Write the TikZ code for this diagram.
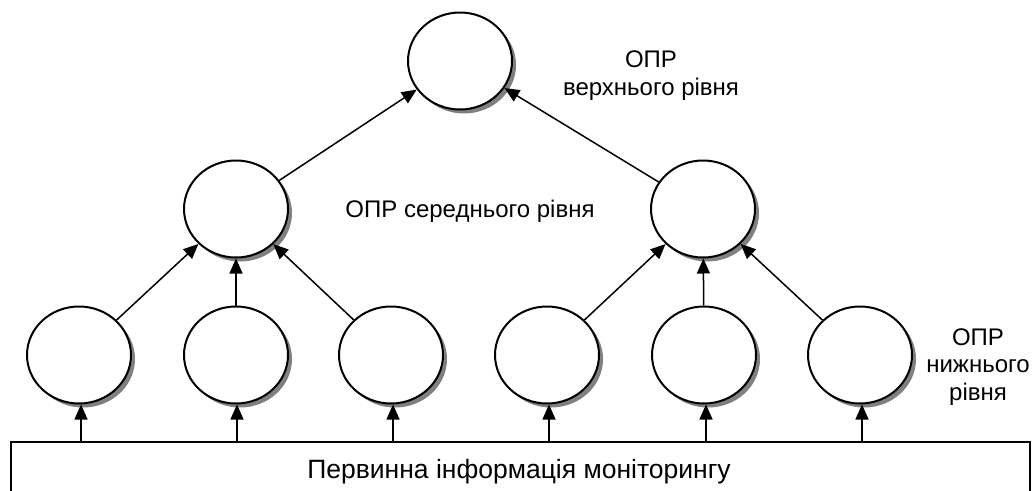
\documentclass[tikz,border=0pt]{standalone}
\usepackage{fontspec}
\setmainfont{Liberation Sans}
\usetikzlibrary{shapes.geometric,arrows.meta,shadows}
\begin{document}
\begin{tikzpicture}[x=1pt,y=-1pt,
  dm/.style={ellipse,draw,line width=2pt,fill=white,minimum width=104pt,minimum height=97pt,inner sep=0pt,
    drop shadow={shadow xshift=4pt,shadow yshift=-4pt,fill=black!50,opacity=1}},
  conn/.style={line width=1.5pt,-{Triangle[length=15pt,width=13pt]}},
  lbl/.style={font=\fontsize{24}{27.5}\selectfont,align=center,inner sep=0pt,anchor=base}]
\useasboundingbox (0,0) rectangle (1032,490);
% info box
\draw[line width=2pt] (11,442) -- (1030,442) -- (1030,495) -- (11,495) -- cycle;
\node[lbl,font=\fontsize{26.5}{30}\selectfont] (info) at (519,478) {Первинна інформація моніторингу};
\coordinate (b1) at (81,442);
\coordinate (b2) at (237,442);
\coordinate (b3) at (393,442);
\coordinate (b4) at (549,442);
\coordinate (b5) at (706,442);
\coordinate (b6) at (862,442);
% nodes
\node[dm] (t) at (460,61) {};
\node[dm] (m1) at (236,209) {};
\node[dm] (m2) at (703,209) {};
\node[dm] (l1) at (79,355) {};
\node[dm] (l2) at (236,355) {};
\node[dm] (l3) at (391,355) {};
\node[dm] (l4) at (547,355) {};
\node[dm] (l5) at (704,355) {};
\node[dm] (l6) at (860,355) {};
% labels
\node[lbl] (lt) at (651,95) {ОПР\\верхнього рівня};
\node[lbl] (lm) at (470,217) {ОПР середнього рівня};
\node[lbl] (ll) at (978,400) {ОПР\\нижнього\\рівня};
% connectors
\draw[conn] (m1) -- (t);
\draw[conn] (m2) -- (t);
\draw[conn] (l1) -- (m1);
\draw[conn] (l2) -- (m1);
\draw[conn] (l3) -- (m1);
\draw[conn] (l4) -- (m2);
\draw[conn] (l5) -- (m2);
\draw[conn] (l6) -- (m2);
\foreach \i in {1,...,6}{\draw[conn] (b\i) -- (b\i |- l\i.south);}
\end{tikzpicture}
\end{document}
